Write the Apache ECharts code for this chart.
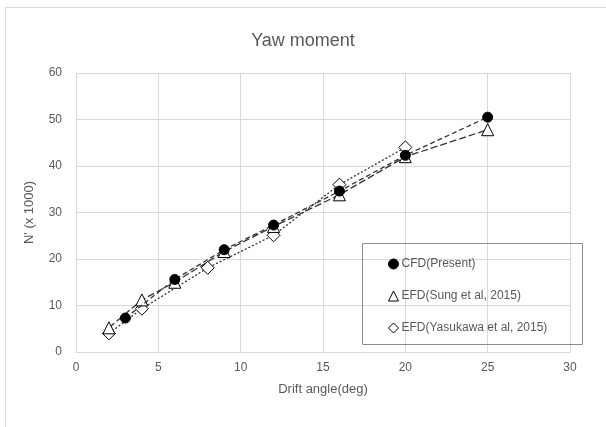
<!DOCTYPE html>
<html>
<head>
<meta charset="utf-8">
<script src="https://cdn.jsdelivr.net/npm/echarts@6/dist/echarts.min.js"></script>
<style>html,body{margin:0;padding:0;background:#fff}#c{width:606px;height:427px}</style>
</head>
<body>
<div id="c"></div>
<script>
const titleText = 'Yaw moment';
const xAxisName = 'Drift angle(deg)';
const yAxisName = "N' (x 1000)";
const seriesNames = ['CFD(Present)', 'EFD(Sung et al, 2015)', 'EFD(Yasukawa et al, 2015)'];
const cfdX = [3, 6, 9, 12, 16, 20, 25];
const cfdY = [7.3, 15.6, 22.0, 27.3, 34.6, 42.3, 50.5];
const sungX = [2, 4, 6, 9, 12, 16, 20, 25];
const sungY = [5.2, 11.2, 15.0, 21.6, 27.0, 33.8, 42.0, 47.8];
const yasX = [2, 4, 8, 12, 16, 20];
const yasY = [4.0, 9.3, 18.1, 25.1, 36.0, 44.0];

const pair = (xs, ys) => xs.map((x, i) => [x, ys[i]]);
const txt = '#595959';
const font = "'Liberation Sans Narrow', 'Liberation Sans', sans-serif";

const chart = echarts.init(document.getElementById('c'));
chart.setOption({
  animation: false,
  backgroundColor: '#fff',
  title: {
    text: titleText, left: 'center', top: 27,
    textStyle: { color: txt, fontSize: 18, fontWeight: 'normal', fontFamily: font }
  },
  grid: { left: 76, right: 36, top: 73, bottom: 75 },
  xAxis: {
    type: 'value', min: 0, max: 30, interval: 5,
    name: xAxisName, nameLocation: 'middle', nameGap: 31,
    nameTextStyle: { color: txt, fontSize: 13, fontFamily: font },
    axisLine: { show: true, lineStyle: { color: '#d9d9d9' } },
    axisTick: { show: false },
    axisLabel: { color: txt, fontSize: 12, fontFamily: font, margin: 10 },
    splitLine: { show: true, lineStyle: { color: '#d9d9d9' } }
  },
  yAxis: {
    type: 'value', min: 0, max: 60, interval: 10,
    name: yAxisName, nameLocation: 'middle', nameGap: 40,
    nameTextStyle: { color: txt, fontSize: 13, fontFamily: font },
    axisLine: { show: false },
    axisTick: { show: false },
    axisLabel: { color: txt, fontSize: 12, fontFamily: font, margin: 14 },
    splitLine: { show: true, lineStyle: { color: '#d9d9d9' } }
  },
  legend: {
    orient: 'vertical', left: 383, top: 253, itemGap: 20,
    itemWidth: 10, itemHeight: 10,
    itemStyle: { borderWidth: 1 },
    textStyle: { color: txt, fontSize: 12, fontFamily: font, padding: [0, 0, 0, -2] },
    data: [
      { name: seriesNames[0], icon: 'circle' },
      { name: seriesNames[1], icon: 'triangle' },
      { name: seriesNames[2], icon: 'diamond' }
    ]
  },
  graphic: [
    { type: 'rect', shape: { x: 362.5, y: 243.5, width: 220, height: 101 },
      style: { fill: 'none', stroke: '#8c8c8c', lineWidth: 1 }, z: 100 },
    { type: 'line', shape: { x1: 5.5, y1: 7.5, x2: 5.5, y2: 427 },
      style: { stroke: '#d9d9d9', lineWidth: 1 } },
    { type: 'line', shape: { x1: 5.5, y1: 7.5, x2: 606, y2: 7.5 },
      style: { stroke: '#d9d9d9', lineWidth: 1 } }
  ],
  series: [
    {
      name: seriesNames[0], type: 'line', data: pair(cfdX, cfdY),
      symbol: 'circle', symbolSize: 10, z: 5,
      itemStyle: { color: '#000', borderColor: '#000' },
      lineStyle: { color: '#333', width: 1.3, type: [5, 3] }
    },
    {
      name: seriesNames[1], type: 'line', data: pair(sungX, sungY),
      symbol: 'triangle', symbolSize: 12, z: 4,
      itemStyle: { color: '#fff', borderColor: '#000', borderWidth: 1 },
      lineStyle: { color: '#333', width: 1.3, type: [7, 3] }
    },
    {
      name: seriesNames[2], type: 'line', data: pair(yasX, yasY),
      symbol: 'diamond', symbolSize: 13, z: 3,
      itemStyle: { color: '#fff', borderColor: '#000', borderWidth: 1 },
      lineStyle: { color: '#333', width: 1.3, type: [2, 2] }
    }
  ]
});
</script>
</body>
</html>
